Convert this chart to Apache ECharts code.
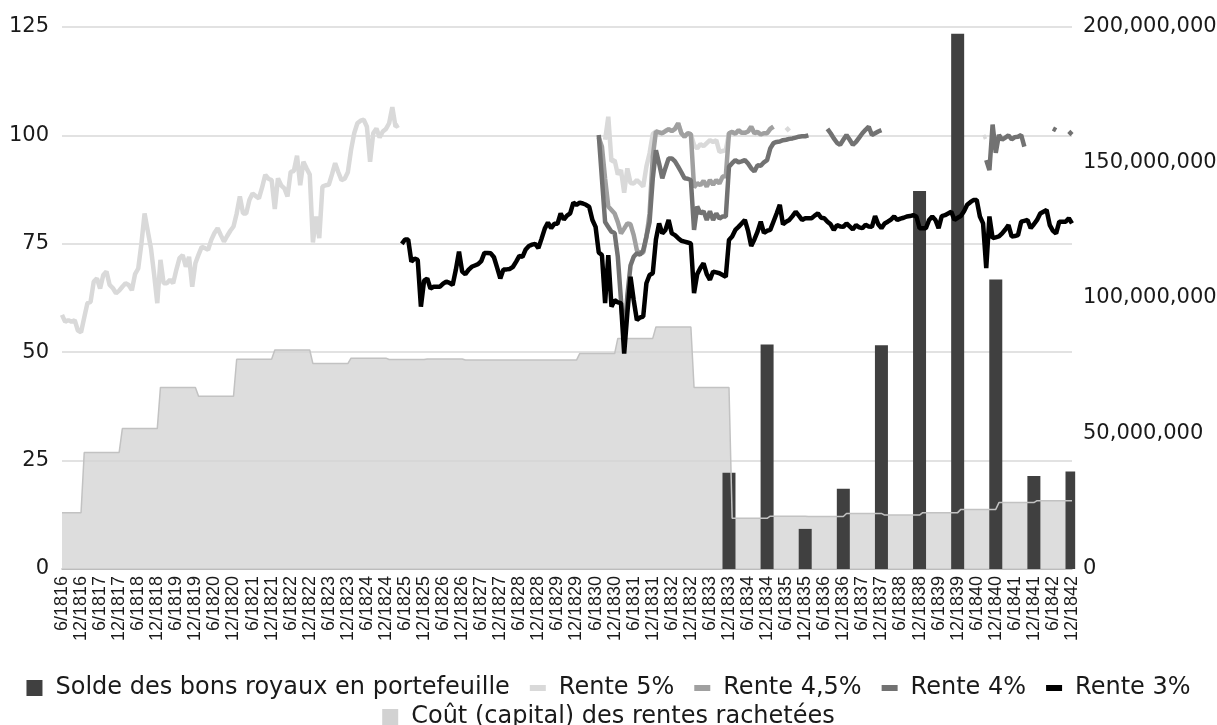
<!DOCTYPE html>
<html>
<head>
<meta charset="utf-8">
<title>Rentes et bons royaux 1816-1842</title>
<script src="https://cdn.jsdelivr.net/npm/echarts@6/dist/echarts.min.js"></script>
<style>
  html, body {margin: 0; padding: 0; background: #fff;}
  #r-canvas {width: 1217px; height: 725px;}
</style>
</head>
<body>
<div id="r-canvas"></div>
<script>
var firstLabel = '6/1816'
var lastLabel = '12/1842'

// Rente 5% (cours mensuel)
var rente5Start = '6/1816'
var rente5 = [
  58.6, 57.0, 57.4, 57.0, 57.4, 55.0, 54.6, 58.0, 61.3, 61.6,
  66.3, 67.0, 64.7, 67.8, 68.6, 65.5, 64.8, 63.6, 64.2, 65.1,
  65.9, 65.5, 64.3, 68.0, 69.3, 75.0, 82.0, 78.0, 74.0, 68.0,
  61.3, 71.3, 65.9, 65.9, 66.7, 65.9, 69.0, 71.7, 72.4, 69.7,
  72.0, 65.1, 70.5, 72.5, 74.3, 74.0, 73.6, 75.9, 77.5, 78.6,
  77.0, 75.5, 76.8, 78.0, 79.0, 82.0, 85.9, 82.0, 82.0, 85.1,
  86.6, 86.0, 85.5, 88.0, 90.9, 90.0, 89.7, 83.0, 90.1, 88.5,
  87.8, 85.9, 91.6, 91.8, 95.3, 88.5, 93.9, 92.4, 91.0, 75.3,
  81.3, 76.3, 88.2, 88.5, 88.6, 91.0, 93.6, 91.5, 89.7, 90.0,
  91.5, 96.6, 100.5, 102.8, 103.4, 103.6, 102.0, 93.9, 100.5, 101.6,
  99.5, 100.9, 101.5, 102.8, 106.5, 102.0, 102.4
]
var rente5bStart = '9/1830'
var rente5b = [
  99.0, 104.3, 94.0, 94.3, 91.0, 92.0, 86.8, 92.4, 89.0, 88.9,
  89.7, 89.0, 88.2, 92.8, 95.9, 100.3, 100.9, 100.7, 100.5, 101.0,
  101.4, 101.0, 101.5, 102.8, 100.5, 99.7, 100.5, 100.3, 97.8, 97.0,
  98.0, 97.5, 98.2, 98.9, 98.5, 98.9, 96.2, 96.4, 96.6, 100.5,
  100.8, 100.4, 101.2, 100.6, 100.6, 100.9, 102.0, 100.5, 100.8, 100.2,
  100.5, 100.5, 101.5, 102.0
]
var rente5cStart = '6/1835'
var rente5c = [101.8, 101.0]
var rente5dStart = '8/1840'
var rente5d = [99.5, 99.8]

// Rente 4,5%
var rente45Start = '7/1830'
var rente45 = [
  99.5, 97.4, 90.0, 83.6, 82.8, 82.0, 80.0, 77.4, 78.5, 79.7,
  79.5, 77.0, 73.5, 72.8, 73.0, 76.5, 82.0, 95.0, 100.9, 100.7,
  100.5, 101.0, 101.4, 101.0, 101.5, 102.8, 100.5, 99.7, 100.5, 100.3,
  88.0, 89.0, 88.5, 89.5, 88.2, 89.7, 88.6, 89.7, 88.9, 90.5,
  90.6, 100.5, 100.8, 100.4, 101.2, 100.6, 100.6, 100.9, 102.0, 100.5,
  100.8, 100.2, 100.5, 100.5, 101.5, 102.0
]

// Rente 4%
var rente4Start = '7/1830'
var rente4 = [
  100.1, 90.0, 80.0, 78.9, 77.8, 77.5, 72.0, 62.0, 53.0, 63.0,
  70.0, 72.0, 72.8, 72.5, 73.5, 76.7, 80.0, 90.0, 96.6, 93.5,
  90.1, 92.5, 94.7, 94.7, 94.0, 92.8, 91.5, 90.1, 90.0, 89.7,
  78.2, 83.6, 82.0, 82.5, 80.5, 82.5, 80.5, 82.0, 80.8, 81.3,
  81.3, 92.8, 93.6, 94.3, 93.8, 94.0, 94.3, 93.5, 92.4, 91.7,
  93.1, 93.0, 93.8, 94.3, 97.0, 98.2, 98.5, 98.6, 98.9, 99.0,
  99.2, 99.3, 99.5, 99.7, 99.8, 99.8, 100.0
]
var rente4bStart = '7/1836'
var rente4b = [101.5, 100.5, 99.3, 98.3, 97.8, 99.0, 100.1, 99.0, 97.8, 98.5,
  99.5, 100.5, 101.3, 102.0, 100.1, 100.5, 100.9, 101.2]
var rente4cStart = '9/1840'
var rente4c = [94.3, 92.0, 102.5, 96.0, 100.1, 99.0, 99.5, 100.0, 99.1, 99.6, 99.7, 100.1, 97.4]
var rente4dStart = '6/1842'
var rente4d = [101.6, 101.2]
var rente4eStart = '11/1842'
var rente4e = [100.9, 100.2]

// Rente 3%
var rente3Start = '5/1825'
var rente3 = [
  75.0, 76.0, 76.0, 70.9, 71.6, 71.3, 60.5, 66.5, 67.0, 64.7,
  65.1, 65.1, 65.1, 65.8, 66.3, 66.0, 65.5, 69.0, 73.2, 68.6,
  68.0, 69.0, 69.7, 70.0, 70.3, 71.0, 72.9, 72.9, 72.8, 71.9,
  69.5, 67.0, 69.1, 69.1, 69.2, 69.7, 70.9, 72.2, 72.0, 73.7,
  74.5, 74.8, 75.0, 74.0, 76.2, 78.5, 79.9, 78.6, 79.6, 79.6,
  82.0, 80.6, 81.5, 82.0, 84.5, 84.0, 84.5, 84.3, 84.0, 83.5,
  80.5, 78.9, 73.0, 72.4, 61.3, 72.4, 60.5, 62.0, 61.5, 61.3,
  49.7, 59.0, 67.4, 62.0, 57.4, 58.0, 58.2, 65.9, 67.8, 68.2,
  76.0, 79.7, 77.4, 78.2, 80.5, 77.4, 77.0, 76.3, 75.7, 75.5,
  75.3, 75.1, 63.6, 68.0, 69.4, 70.5, 68.0, 66.7, 68.6, 68.4,
  68.2, 67.8, 67.4, 75.9, 76.7, 78.2, 78.9, 79.7, 80.5, 78.0,
  74.5, 76.0, 77.8, 80.1, 77.5, 78.0, 78.2, 80.1, 82.0, 84.0,
  79.5, 80.1, 80.5, 81.4, 82.4, 81.5, 80.5, 80.9, 80.9, 80.9,
  81.5, 82.0, 81.0, 80.9, 80.1, 79.5, 78.2, 79.3, 79.0, 78.9,
  79.7, 79.0, 78.3, 79.3, 78.8, 78.6, 79.4, 79.0, 78.9, 81.4,
  79.5, 78.6, 79.7, 80.1, 80.6, 81.3, 80.5, 80.8, 81.0, 81.3,
  81.4, 81.6, 81.3, 78.6, 78.6, 78.6, 80.5, 81.3, 80.5, 78.6,
  81.4, 81.6, 82.0, 82.4, 80.5, 81.0, 81.4, 82.5, 84.0, 84.6,
  85.1, 85.1, 81.3, 79.7, 69.4, 81.3, 76.3, 76.5, 76.7, 77.4,
  78.3, 79.3, 76.7, 76.8, 77.0, 80.1, 80.3, 80.5, 78.6, 79.5,
  80.5, 82.0, 82.4, 82.8, 79.3, 78.0, 77.4, 80.1, 80.1, 80.1,
  80.9, 79.7
]

// Solde des bons royaux en portefeuille (francs, fin d'année)
var bonsDates = ['12/1833', '12/1834', '12/1835', '12/1836', '12/1837',
  '12/1838', '12/1839', '12/1840', '12/1841', '12/1842']
var bonsValues = [35500000, 82800000, 14800000, 29600000, 82600000,
  139500000, 197500000, 106800000, 34300000, 36000000]

// Coût (capital) des rentes rachetées, par année (francs)
var coutYears = [1816, 1817, 1818, 1819, 1820, 1821, 1822, 1823, 1824, 1825,
  1826, 1827, 1828, 1829, 1830, 1831, 1832, 1833, 1834, 1835,
  1836, 1837, 1838, 1839, 1840, 1841, 1842]
var coutValues = [20800000, 43000000, 51800000, 67000000, 63700000, 77400000, 80800000, 75800000, 77800000, 77300000,
  77500000, 77100000, 77100000, 77100000, 79500000, 85100000, 89300000, 67000000, 18700000, 19500000,
  19400000, 20500000, 19900000, 20800000, 22000000, 24500000, 25200000]

var leftTicks = {min: 0, max: 125, interval: 25}
var rightTicks = {min: 0, max: 200000000, interval: 50000000}

// categories mensuelles 6/1816 .. 12/1842
var months = []
;(function () {
  var y = +firstLabel.split('/')[1], m = +firstLabel.split('/')[0]
  while (true) {
    var lab = m + '/' + y
    months.push(lab)
    if (lab === lastLabel) break
    m++
    if (m > 12) { m = 1; y++ }
  }
})()

function place (segments) {
  var out = months.map(function () { return null })
  segments.forEach(function (seg) {
    var s = months.indexOf(seg[0])
    seg[1].forEach(function (v, k) { out[s + k] = v })
  })
  return out
}

var coutData = months.map(function (lab) {
  var y = +lab.split('/')[1]
  return coutValues[coutYears.indexOf(y)]
})
var bonsData = place(bonsDates.map(function (d, k) { return [d, [bonsValues[k]]] }))

function thousands (n) {
  return String(n).replace(/\B(?=(\d{3})+(?!\d))/g, ',')
}

var squareIcon = 'path://M0,0H16V16H0Z M24,16L24,16'
var dashIcon = 'path://M0,0L0,0 M0,5H16V11H0Z M24,16L24,16'
var legendText = {color: '#1a1a1a', fontFamily: 'DejaVu Sans', fontSize: 24}
var coutName = 'Coût (capital) des rentes rachetées'

function lineSerie (name, color, data) {
  return {
    name: name,
    type: 'line',
    yAxisIndex: 0,
    z: 4,
    data: data,
    showSymbol: false,
    connectNulls: false,
    color: color,
    lineStyle: {color: color, width: 4.5},
    emphasis: {disabled: true}
  }
}

var myChart = echarts.init(document.getElementById('r-canvas'), null, {renderer: 'canvas'})

var option = {
  animation: false,
  backgroundColor: '#ffffff',
  textStyle: {fontFamily: 'DejaVu Sans'},
  grid: {left: 62, right: 145, top: 27, bottom: 156, outerBoundsMode: 'none'},
  legend: [{
    left: 'center',
    top: 671,
    itemWidth: 24,
    itemHeight: 16,
    itemGap: 20,
    textStyle: legendText,
    itemStyle: {borderWidth: 0},
    data: [
      {name: 'Solde des bons royaux en portefeuille', icon: squareIcon},
      {name: 'Rente 5%', icon: dashIcon},
      {name: 'Rente 4,5%', icon: dashIcon},
      {name: 'Rente 4%', icon: dashIcon},
      {name: 'Rente 3%', icon: dashIcon}
    ]
  }, {
    left: 'center',
    top: 700,
    itemWidth: 24,
    itemHeight: 16,
    textStyle: legendText,
    itemStyle: {borderWidth: 0},
    data: [{name: coutName, icon: squareIcon}]
  }],
  xAxis: {
    type: 'category',
    data: months,
    boundaryGap: false,
    axisLine: {lineStyle: {color: '#b0b0b0', width: 1.5}},
    axisTick: {show: false},
    splitLine: {show: false},
    axisLabel: {
      interval: function (idx) { return idx % 6 === 0 },
      rotate: 90,
      margin: 7,
      color: '#1a1a1a',
      fontFamily: 'Liberation Sans',
      fontSize: 18
    }
  },
  yAxis: [{
    type: 'value',
    min: leftTicks.min,
    max: leftTicks.max,
    interval: leftTicks.interval,
    axisLine: {show: false},
    axisTick: {show: false},
    splitLine: {lineStyle: {color: '#d9d9d9', width: 1.5}},
    axisLabel: {color: '#1a1a1a', fontFamily: 'DejaVu Sans', fontSize: 21, margin: 13}
  }, {
    type: 'value',
    position: 'right',
    min: rightTicks.min,
    max: rightTicks.max,
    interval: rightTicks.interval,
    axisLine: {show: false},
    axisTick: {show: false},
    splitLine: {show: false},
    axisLabel: {
      color: '#1a1a1a', fontFamily: 'DejaVu Sans', fontSize: 21, margin: 11,
      formatter: function (v) { return thousands(v) }
    }
  }],
  series: [{
    name: coutName,
    type: 'line',
    yAxisIndex: 1,
    z: 1,
    data: coutData,
    showSymbol: false,
    color: '#d2d2d2',
    lineStyle: {width: 0},
    areaStyle: {color: '#d4d4d4', opacity: 0.8},
    emphasis: {disabled: true}
  }, {
    name: 'Solde des bons royaux en portefeuille',
    type: 'bar',
    yAxisIndex: 1,
    z: 3,
    data: bonsData,
    barWidth: 13,
    color: '#404040',
    itemStyle: {color: '#404040'},
    emphasis: {disabled: true}
  }, {
    // contour de l'aire, dessiné au-dessus des barres
    name: coutName,
    type: 'line',
    yAxisIndex: 1,
    z: 3.5,
    data: coutData,
    showSymbol: false,
    color: '#d2d2d2',
    lineStyle: {color: '#c2c2c2', width: 1.5},
    emphasis: {disabled: true}
  },
  lineSerie('Rente 5%', '#d9d9d9', place([[rente5Start, rente5], [rente5bStart, rente5b], [rente5cStart, rente5c], [rente5dStart, rente5d]])),
  lineSerie('Rente 4,5%', '#a0a0a0', place([[rente45Start, rente45]])),
  lineSerie('Rente 4%', '#727272', place([[rente4Start, rente4], [rente4bStart, rente4b], [rente4cStart, rente4c], [rente4dStart, rente4d], [rente4eStart, rente4e]])),
  lineSerie('Rente 3%', '#000000', place([[rente3Start, rente3]]))
  ]
}

myChart.setOption(option)
</script>
</body>
</html>
